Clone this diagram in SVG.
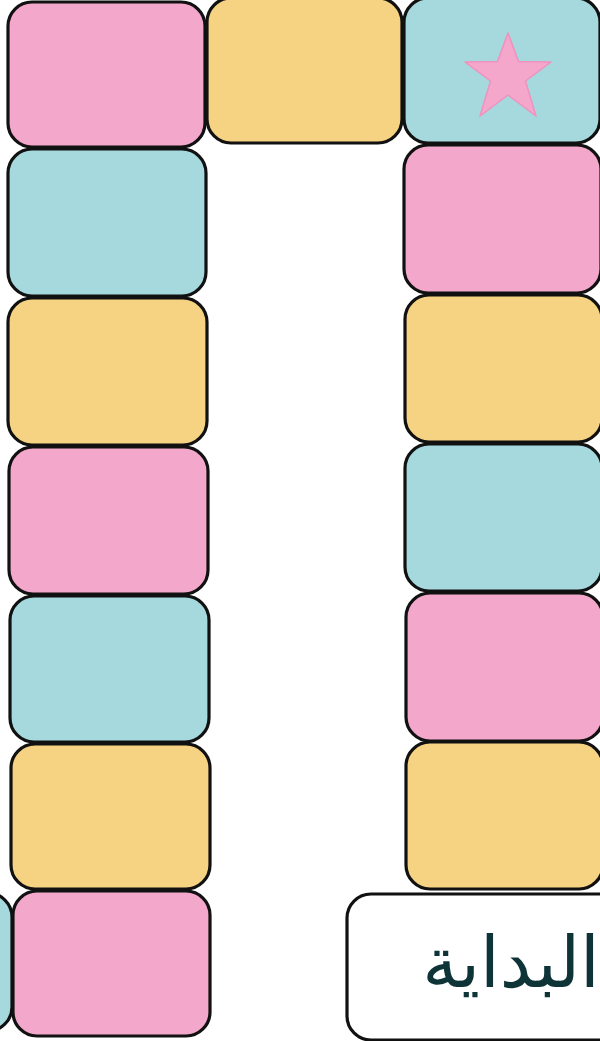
<svg xmlns="http://www.w3.org/2000/svg" width="600" height="1041" viewBox="0 0 600 1041">
<style>
.t{stroke:#111;stroke-width:3.2}
.p{fill:#F3A8CB}.y{fill:#F6D283}.c{fill:#A5D9DE}
.lbl{font-family:"DejaVu Sans","Noto Sans",sans-serif;font-size:71px;fill:#0E3438}
</style>
<rect width="600" height="1041" fill="#fff"/>
<g id="left-col">
<rect id="l7b" class="t c" x="-190" y="893" width="202" height="138" rx="24"/>
<rect id="l1" class="t p" x="8" y="2" width="197" height="145" rx="24"/>
<rect id="l2" class="t c" x="8" y="149" width="198" height="147" rx="24"/>
<rect id="l3" class="t y" x="8" y="298" width="199" height="147" rx="24"/>
<rect id="l4" class="t p" x="9" y="447" width="199" height="147" rx="24"/>
<rect id="l5" class="t c" x="10" y="596" width="199" height="146" rx="24"/>
<rect id="l6" class="t y" x="11" y="744" width="199" height="145" rx="24"/>
<rect id="l7" class="t p" x="13" y="891" width="197" height="145" rx="24"/>
</g>
<g id="top-mid">
<rect class="t y" x="207" y="-2" width="195" height="145" rx="24"/>
</g>
<g id="right-col">
<rect id="r1" class="t c" x="404" y="-2" width="196" height="145" rx="24"/>
<rect id="r2" class="t p" x="404" y="145" width="197" height="148" rx="24"/>
<rect id="r3" class="t y" x="405" y="295" width="197" height="147" rx="24"/>
<rect id="r4" class="t c" x="405" y="444" width="197" height="147" rx="24"/>
<rect id="r5" class="t p" x="406" y="593" width="197" height="148" rx="24"/>
<rect id="r6" class="t y" x="406" y="742" width="197" height="147" rx="24"/>
</g>
<g id="star">
<polygon points="508,33 518.6,61.5 551,62 525.5,81 536,116 508,95 480,116 490.5,81 465,62 497.4,61.5" fill="#F4A7CB" stroke="#EE92BE" stroke-width="1.5" stroke-linejoin="round"/>
</g>
<g id="start">
<rect class="t" fill="#fff" x="347" y="894" width="280" height="146" rx="24"/>
<text class="lbl" x="511" y="987" text-anchor="middle">البداية</text>
</g>
</svg>
